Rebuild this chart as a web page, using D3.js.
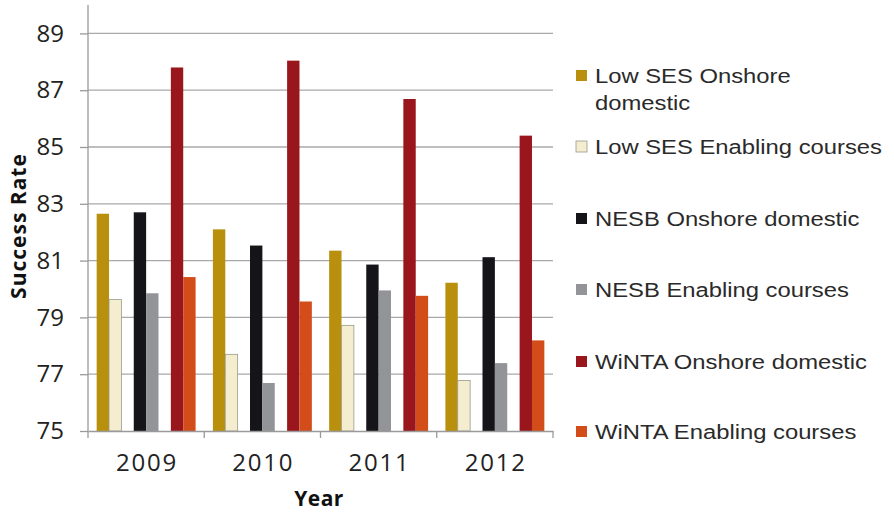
<!DOCTYPE html>
<html>
<head>
<meta charset="utf-8">
<script src="https://cdn.jsdelivr.net/npm/d3@7"></script>
<style>
  html, body { margin: 0; padding: 0; background: #ffffff; }
  svg { display: block; }
</style>
</head>
<body>
<svg id="chart" width="894" height="520"></svg>
<script>
// Success rates by year and equity group
const years = ["2009", "2010", "2011", "2012"];
const seriesNames = [
  "Low SES Onshore domestic",
  "Low SES Enabling courses",
  "NESB Onshore domestic",
  "NESB Enabling courses",
  "WiNTA Onshore domestic",
  "WiNTA Enabling courses"
];
const lowSesOnshore   = [82.65, 82.1, 81.35, 80.22];
const lowSesEnabling  = [79.63, 77.7, 78.72, 76.78];
const nesbOnshore     = [82.7, 81.53, 80.86, 81.12];
const nesbEnabling    = [79.85, 76.69, 79.95, 77.39];
const wintaOnshore    = [87.8, 88.04, 86.69, 85.4];
const wintaEnabling   = [80.42, 79.56, 79.76, 78.19];
const yTicks = [75, 77, 79, 81, 83, 85, 87, 89];

const seriesValues = [lowSesOnshore, lowSesEnabling, nesbOnshore, nesbEnabling, wintaOnshore, wintaEnabling];
const colors = ["#B8900E", "#F5EDCF", "#141419", "#939498", "#99161C", "#D24D19"];
const strokes = [null, "#9a9a8c", null, null, null, null];

const svg = d3.select("#chart");
const plot = { left: 88, right: 553, top: 5, bottom: 431 };

const y = d3.scaleLinear().domain([75, 90]).range([plot.bottom, plot.top]);
const x0 = d3.scaleBand().domain(years).range([plot.left, plot.right]).padding(0);
// six bars per year arranged in three pairs, each pair separated by one empty slot
const slots = d3.range(8);
const x1 = d3.scaleBand().domain(slots).range([0, x0.bandwidth()]).paddingInner(0).paddingOuter(0.7);
const slotOf = i => i + Math.floor(i / 2);

// gridlines
svg.append("g")
  .selectAll("line")
  .data(yTicks.filter(t => t > 75))
  .join("line")
  .attr("x1", plot.left).attr("x2", plot.right)
  .attr("y1", d => y(d)).attr("y2", d => y(d))
  .attr("stroke", "#a9a9a9").attr("stroke-width", 1.3);

// bars
const groups = svg.append("g")
  .selectAll("g")
  .data(years)
  .join("g")
  .attr("transform", d => `translate(${x0(d)},0)`);

groups.selectAll("rect")
  .data((yr, j) => seriesValues.map((vals, i) => ({ i, v: vals[j] })))
  .join("rect")
  .attr("x", d => x1(slotOf(d.i)))
  .attr("width", x1.bandwidth())
  .attr("y", d => y(d.v))
  .attr("height", d => y(75) - y(d.v))
  .attr("fill", d => colors[d.i])
  .attr("stroke", d => strokes[d.i] || "none")
  .attr("stroke-width", 0.8);

// y axis
const yAxis = svg.append("g")
  .attr("transform", `translate(${plot.left},0)`)
  .call(d3.axisLeft(y).tickValues(yTicks).tickSize(8).tickPadding(16).tickFormat(d3.format("d")));
yAxis.select(".domain").attr("stroke", "#9a9a9a").attr("stroke-width", 1.3)
  .attr("d", `M-0,${plot.top}V${plot.bottom}`);
yAxis.selectAll(".tick line").attr("stroke", "#9a9a9a").attr("stroke-width", 1.3);
yAxis.selectAll(".tick text")
  .attr("font-family", "'Open Sans', sans-serif")
  .attr("font-size", 24)
  .attr("fill", "#222");

// x axis
const xAxis = svg.append("g")
  .attr("transform", `translate(0,${plot.bottom})`)
  .call(d3.axisBottom(x0).tickSize(0).tickPadding(23));
xAxis.select(".domain").attr("stroke", "#9a9a9a").attr("stroke-width", 1.3);
xAxis.selectAll(".tick text")
  .attr("font-family", "'Open Sans', sans-serif")
  .attr("font-size", 24)
  .attr("letter-spacing", "1.8px")
  .attr("dx", 0.9)
  .attr("fill", "#222");
// boundary ticks between year groups
svg.append("g")
  .selectAll("line")
  .data(years.map(d => x0(d)).concat([plot.right]))
  .join("line")
  .attr("x1", d => d).attr("x2", d => d)
  .attr("y1", plot.bottom).attr("y2", plot.bottom + 7)
  .attr("stroke", "#9a9a9a").attr("stroke-width", 1.3);

// axis titles
svg.append("text")
  .attr("x", 319).attr("y", 506)
  .attr("text-anchor", "middle")
  .attr("font-family", "'Open Sans', sans-serif")
  .attr("font-weight", "bold")
  .attr("font-size", 21)
  .attr("letter-spacing", "0.5px")
  .attr("fill", "#111")
  .text("Year");

svg.append("text")
  .attr("transform", "translate(26,226) rotate(-90)")
  .attr("text-anchor", "middle")
  .attr("font-family", "'Open Sans', sans-serif")
  .attr("font-weight", "bold")
  .attr("font-size", 21)
  .attr("letter-spacing", "1px")
  .attr("fill", "#111")
  .text("Success Rate");

// legend
const legendRows = [
  ["Low SES Onshore", "domestic"],
  ["Low SES Enabling courses"],
  ["NESB Onshore domestic"],
  ["NESB Enabling courses"],
  ["WiNTA Onshore domestic"],
  ["WiNTA Enabling courses"]
];
const legendY = [76, 147, 219, 290, 362, 432];
const legend = svg.append("g");
seriesNames.forEach((name, i) => {
  const g = legend.append("g").attr("transform", `translate(576,${legendY[i]})`);
  g.append("rect")
    .attr("x", 0).attr("y", -6).attr("width", 11).attr("height", 11)
    .attr("fill", colors[i])
    .attr("stroke", strokes[i] || "none").attr("stroke-width", 0.8);
  // legend labels are set in a horizontally widened face
  const t = g.append("text")
    .attr("transform", "translate(19,7) scale(1.19,1)")
    .attr("font-family", "'Liberation Sans', Arial, sans-serif")
    .attr("font-size", 20)
    .attr("fill", "#2a2a2a");
  legendRows[i].forEach((line, k) => {
    t.append("tspan").attr("x", 0).attr("dy", k === 0 ? 0 : 27).text(line);
  });
});
</script>
</body>
</html>
